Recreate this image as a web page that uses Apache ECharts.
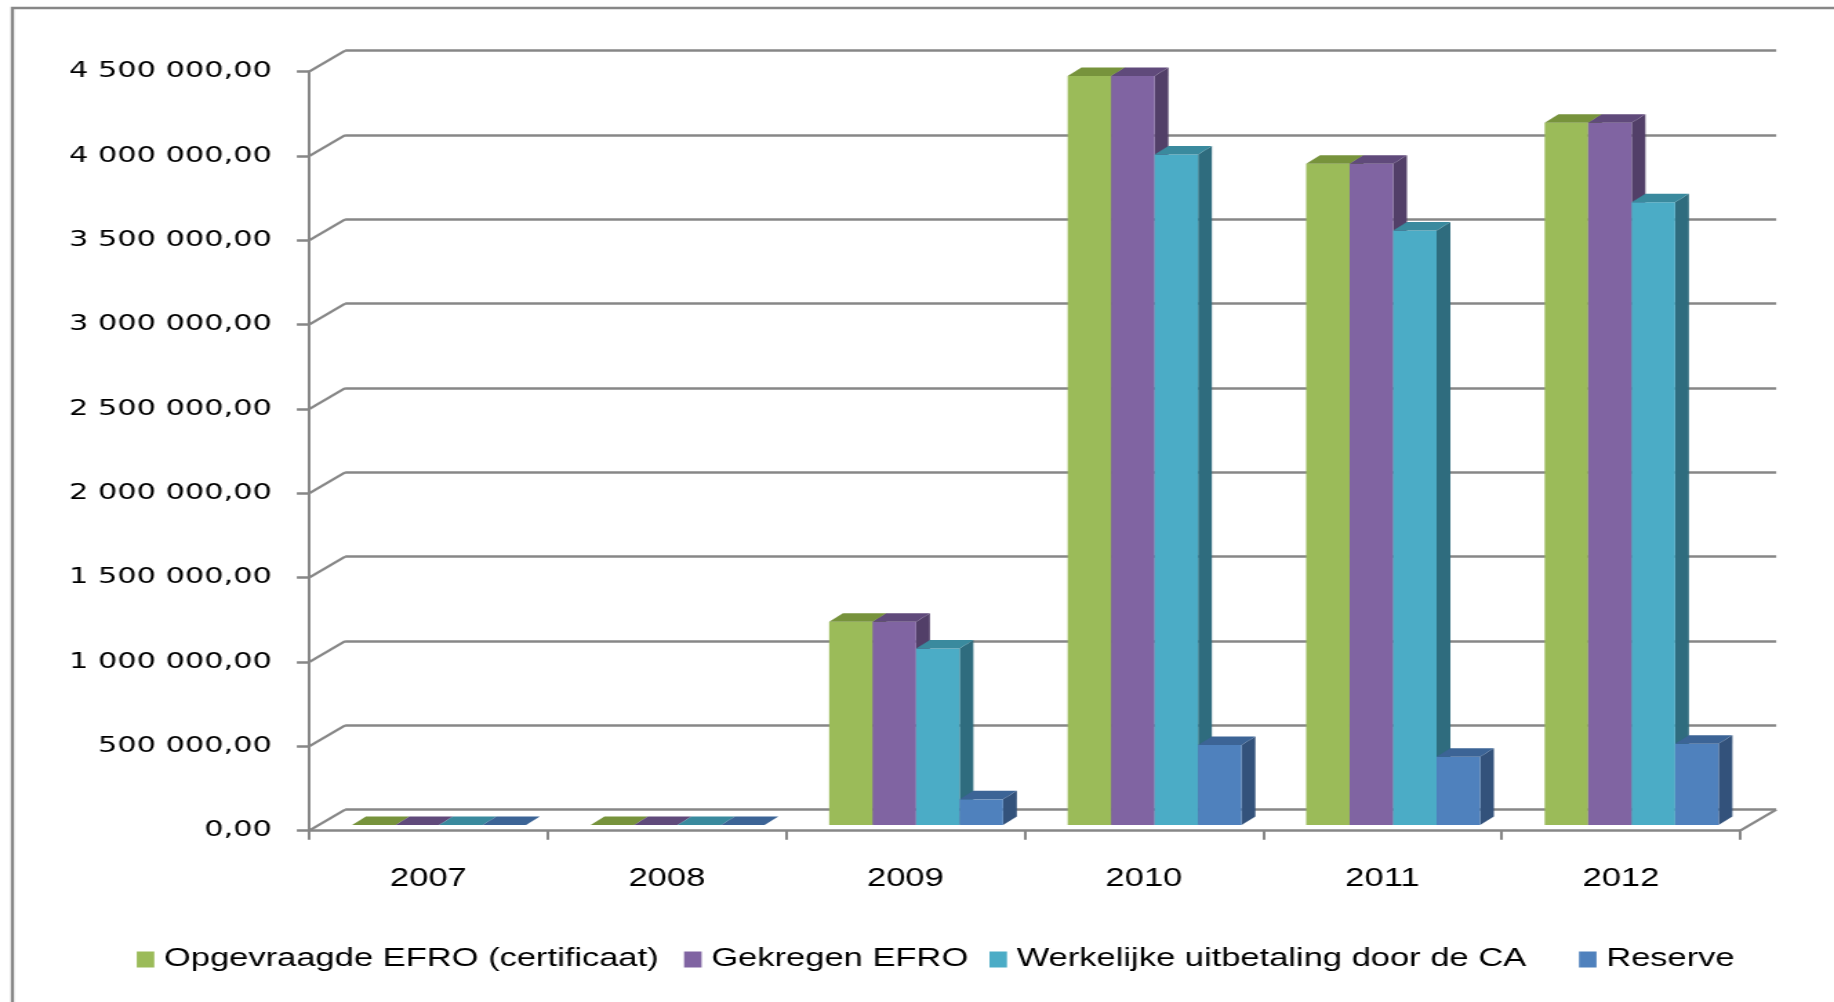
<!DOCTYPE html>
<html>
<head>
<meta charset="utf-8">
<script src="https://cdn.jsdelivr.net/npm/echarts@6/dist/echarts.min.js"></script>
<style>
  html, body { margin: 0; padding: 0; background: #fff; }
  #wrap { width: 1834px; height: 1002px; overflow: hidden; background: #fff; }
  /* the source picture is a horizontally stretched Excel chart */
  #main { width: 1329px; height: 1002px; transform: scaleX(1.38); transform-origin: 0 0; }
</style>
</head>
<body>
<div id="wrap"><div id="main"></div></div>
<script>
var years = ['2007', '2008', '2009', '2010', '2011', '2012'];
var seriesNames = ['Opgevraagde EFRO (certificaat)', 'Gekregen EFRO', 'Werkelijke uitbetaling door de CA', 'Reserve'];
var opgevraagd = [0, 0, 1205000, 4440000, 3921000, 4163000];
var gekregen = [0, 0, 1205000, 4440000, 3921000, 4163000];
var werkelijk = [0, 0, 1047000, 3976000, 3525000, 3692000];
var reserve = [0, 0, 152000, 474000, 405000, 481000];
var yTicks = [0, 500000, 1000000, 1500000, 2000000, 2500000, 3000000, 3500000, 4000000, 4500000];

var frontColors = ['#9BBB59', '#8064A2', '#4BACC6', '#4F81BD'];
var topColors = ['#77933C', '#604A7B', '#3A8A9E', '#3C6496'];
var sideColors = ['#5E7530', '#523F68', '#2F6C7E', '#33527B'];

var GRID = '#878787';
var DX = 26.1, DY = -21;      // depth of the floor / walls
var BDX = 10, BDY = -8.5;     // depth of a bar
var OX = 7.75, OY = -5.7;     // bars stand a bit into the floor
var BAR_RATIO = 31.5 / 172.8;

var chart = echarts.init(document.getElementById('main'));

function fmt(v) {
  return Math.round(v).toString().replace(/\B(?=(\d{3})+(?!\d))/g, ' ') + ',00';
}

function barRenderer(k) {
  return function (params, api) {
    var cat = api.value(0);
    var base = api.coord([cat, 0]);
    var top = api.coord([cat, api.value(1)]);
    var bw = api.size([1, 0])[0] * BAR_RATIO;
    var x0 = base[0] + OX - 2 * bw + k * bw;
    var x1 = x0 + bw;
    var yb = base[1] + OY;
    var yt = top[1] + OY;
    var children = [];
    if (yb - yt > 0.5) {
      children.push({
        type: 'polygon',
        shape: { points: [[x1, yb], [x1 + BDX, yb + BDY], [x1 + BDX, yt + BDY], [x1, yt]] },
        style: { fill: sideColors[k] }
      });
      children.push({
        type: 'rect',
        shape: { x: x0, y: yt, width: bw, height: yb - yt },
        style: { fill: frontColors[k] }
      });
    }
    children.push({
      type: 'polygon',
      shape: { points: [[x0, yt], [x1, yt], [x1 + BDX, yt + BDY], [x0 + BDX, yt + BDY]] },
      style: { fill: topColors[k] }
    });
    return { type: 'group', children: children };
  };
}

var values = [opgevraagd, gekregen, werkelijk, reserve];
var series = values.map(function (arr, k) {
  return {
    name: seriesNames[k],
    type: 'custom',
    xAxisIndex: 0,
    yAxisIndex: 0,
    itemStyle: { color: frontColors[k] },
    renderItem: barRenderer(k),
    encode: { x: 0, y: 1 },
    data: arr.map(function (v, i) { return [i, v]; }),
    z: 3
  };
});

// diagonal lines joining the front axis to the back wall, plus the floor's right edge
series.push({
  type: 'custom',
  silent: true,
  xAxisIndex: 0,
  yAxisIndex: 0,
  z: 1,
  data: yTicks.map(function (v) { return [0, v]; }),
  renderItem: function (params, api) {
    var cs = params.coordSys;
    var v = api.value(1);
    var p = api.coord([0, v]);
    var children = [{
      type: 'line',
      shape: { x1: cs.x, y1: p[1], x2: cs.x + DX, y2: p[1] + DY },
      style: { stroke: GRID, lineWidth: 2.2 }
    }];
    if (v === 0) {
      children.push({
        type: 'line',
        shape: { x1: cs.x + cs.width, y1: p[1], x2: cs.x + cs.width + DX, y2: p[1] + DY },
        style: { stroke: GRID, lineWidth: 2.2 }
      });
    }
    return { type: 'group', children: children };
  }
});

var legendLeft = [99.1, 495.7, 717, 1144.2];
var legends = seriesNames.map(function (n, k) {
  return {
    data: [n],
    left: legendLeft[k],
    top: 947,
    padding: 0,
    icon: 'rect',
    itemWidth: 12.7,
    itemHeight: 16,
    selectedMode: false,
    textStyle: { fontFamily: 'Liberation Sans', fontSize: 25, color: '#000', padding: [0, 0, 0, 2] }
  };
});

var option = {
  backgroundColor: '#fff',
  animation: false,
  graphic: [{
    type: 'rect',
    shape: { x: 9, y: 8, width: 2000, height: 2000 },
    style: { fill: 'none', stroke: GRID, lineWidth: 2.4 },
    z: 0
  }],
  legend: legends,
  grid: [
    { left: 224, top: 71.7, width: 1037, height: 759 },
    { left: 250.1, top: 50.7, width: 1037, height: 759 }
  ],
  xAxis: [{
    type: 'category',
    gridIndex: 0,
    data: years,
    boundaryGap: true,
    axisLine: { show: true, lineStyle: { color: GRID, width: 2.5 } },
    axisTick: { show: true, interval: 0, length: 9, lineStyle: { color: GRID, width: 2 } },
    axisLabel: { margin: 36, fontFamily: 'Liberation Sans', fontSize: 25, color: '#000' },
    splitLine: { show: false }
  }, {
    type: 'value',
    gridIndex: 1,
    min: 0,
    max: 1,
    show: false
  }],
  yAxis: [{
    type: 'value',
    gridIndex: 0,
    min: 0,
    max: 4500000,
    interval: 500000,
    axisLine: { show: true, lineStyle: { color: GRID, width: 2 } },
    axisTick: { show: true, length: 8.9, lineStyle: { color: GRID, width: 2.5 } },
    axisLabel: { margin: 27, fontFamily: 'DejaVu Sans', fontSize: 22, color: '#000', formatter: fmt },
    splitLine: { show: false }
  }, {
    type: 'value',
    gridIndex: 1,
    min: 0,
    max: 4500000,
    interval: 500000,
    axisLine: { show: false },
    axisTick: { show: false },
    axisLabel: { show: false },
    splitLine: { show: true, lineStyle: { color: GRID, width: 2.5 } }
  }],
  series: series
};

chart.setOption(option);
</script>
</body>
</html>
